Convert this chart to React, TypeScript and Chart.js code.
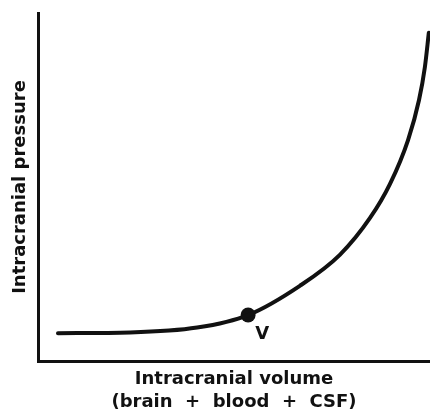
import React, { useEffect, useRef } from "react";
import { Chart, registerables } from "chart.js";

Chart.register(...registerables);

// Intracranial volume (arbitrary units 0-100) vs intracranial pressure (arbitrary 0-100)
const volumes = [5.1, 23.5, 40.6, 53.6, 66.8, 77.0, 84.7, 89.8, 94.4, 97.2, 98.7, 99.7];
const pressures = [8.0, 8.2, 9.6, 13.2, 21.6, 30.5, 41.1, 50.9, 63.5, 75.0, 84.5, 94.3];
const markerVolume = [53.6];
const markerPressure = [13.2];
const markerLabel = "V";
const xTitle = ["Intracranial volume", "(brain  +  blood  +  CSF)"];
const yTitle = "Intracranial pressure";

const FONT = "'DejaVu Sans', sans-serif";
const INK = "#111111";

const labelPlugin = {
  id: "markerLabel",
  afterDatasetsDraw(chart: any) {
    const meta = chart.getDatasetMeta(1);
    const ctx = chart.ctx;
    ctx.save();
    ctx.fillStyle = INK;
    ctx.font = `bold 18px ${FONT}`;
    ctx.textAlign = "center";
    ctx.textBaseline = "middle";
    meta.data.forEach((pt: any) => {
      ctx.fillText(markerLabel, pt.x + 14, pt.y + 19);
    });
    ctx.restore();
  },
};

export default function App() {
  const ref = useRef<HTMLCanvasElement | null>(null);
  useEffect(() => {
    document.body.style.margin = "0";
    const chart = new Chart(ref.current as HTMLCanvasElement, {
      type: "line",
      data: {
        datasets: [
          {
            data: volumes.map((v, i) => ({ x: v, y: pressures[i] })),
            borderColor: INK,
            borderWidth: 4,
            borderCapStyle: "round",
            pointRadius: 0,
            cubicInterpolationMode: "monotone",
            fill: false,
          },
          {
            data: markerVolume.map((v, i) => ({ x: v, y: markerPressure[i] })),
            showLine: false,
            pointRadius: 7.5,
            pointBackgroundColor: INK,
            pointBorderColor: INK,
            pointBorderWidth: 0,
          },
        ],
      },
      options: {
        animation: false,
        responsive: true,
        maintainAspectRatio: false,
        layout: { autoPadding: false, padding: { top: 13, left: 0, right: 0, bottom: 0 } },
        plugins: { legend: { display: false }, tooltip: { enabled: false } },
        scales: {
          x: {
            type: "linear",
            min: 0,
            max: 100,
            ticks: { display: false },
            grid: { display: false, drawTicks: false },
            border: { display: true, color: INK, width: 3 },
            title: {
              display: true,
              text: xTitle,
              color: INK,
              font: { family: FONT, size: 18, weight: "bold", lineHeight: 23 / 18 },
              padding: { top: 7, bottom: 0 },
            },
          },
          y: {
            type: "linear",
            min: 0,
            max: 100,
            ticks: { display: false },
            grid: { display: false, drawTicks: false },
            border: { display: true, color: INK, width: 3 },
            title: {
              display: true,
              text: yTitle,
              color: INK,
              font: { family: FONT, size: 18, weight: "bold", lineHeight: 1.2 },
              padding: { top: 10, bottom: 6.4 },
            },
          },
        },
      },
      plugins: [labelPlugin],
    } as any);
    return () => chart.destroy();
  }, []);
  return (
    <div style={{ position: "absolute", left: 0, top: 0, width: 430, height: 414, background: "#fff" }}>
      <canvas ref={ref} />
    </div>
  );
}
